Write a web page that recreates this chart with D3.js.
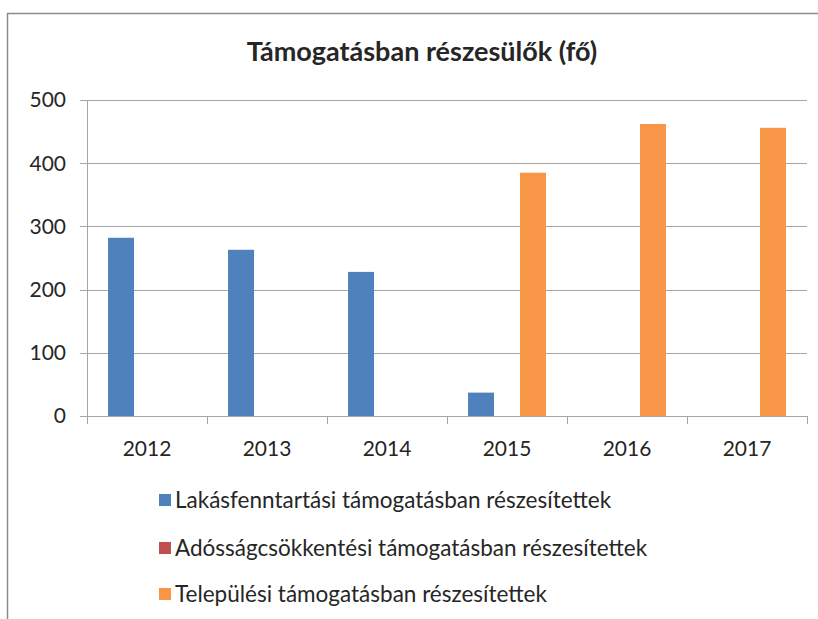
<!DOCTYPE html>
<html lang="hu">
<head>
<meta charset="utf-8">
<script src="https://d3js.org/d3.v7.min.js"></script>
<style>
  body { margin: 0; background: #fff; }
  text { font-family: Lato, "Open Sans", sans-serif; fill: #262626; }
</style>
</head>
<body>
<svg width="818" height="619"></svg>
<script>
// adatok (fő)
var years = ["2012", "2013", "2014", "2015", "2016", "2017"];
var seriesNames = [
  "Lakásfenntartási támogatásban részesítettek",
  "Adósságcsökkentési támogatásban részesítettek",
  "Települési támogatásban részesítettek"
];
var lakasfenntartasi = [282, 263, 228, 37, 0, 0];
var adossagcsokkentesi = [0, 0, 0, 0, 0, 0];
var telepulesi = [0, 0, 0, 385, 462, 456];
var yTicks = [0, 100, 200, 300, 400, 500];
var colors = ["#4f81bd", "#c0504d", "#f79646"];

var allSeries = [lakasfenntartasi, adossagcsokkentesi, telepulesi];

var svg = d3.select("svg");

// chart border
svg.append("path")
    .attr("d", "M7.5,619 V13.5 H818")
    .attr("fill", "none")
    .attr("stroke", "#8c8c8c")
    .attr("stroke-width", 1.5);

svg.append("text")
    .attr("x", 422)
    .attr("y", 61)
    .attr("text-anchor", "middle")
    .style("font-size", "27px")
    .style("font-weight", "bold")
    .text("Támogatásban részesülők (fő)");

var pLeft = 87, pRight = 807, pTop = 100, pBottom = 416;

var x0 = d3.scaleBand().domain(years).range([pLeft, pRight]).padding(0);
var x1 = d3.scaleBand().domain(d3.range(3)).range([0, x0.bandwidth()]).paddingInner(0).paddingOuter(0.81);
var y = d3.scaleLinear().domain([0, 500]).range([pBottom, pTop]);

// gridlines
svg.append("g")
    .selectAll("line")
    .data(yTicks)
    .join("line")
    .attr("x1", pLeft - 7)
    .attr("x2", pRight)
    .attr("y1", d => Math.round(y(d)) + 0.5)
    .attr("y2", d => Math.round(y(d)) + 0.5)
    .attr("stroke", "#a6a6a6")
    .attr("stroke-width", 1);

// y axis line
svg.append("line")
    .attr("x1", pLeft + 0.5).attr("x2", pLeft + 0.5)
    .attr("y1", pTop).attr("y2", pBottom)
    .attr("stroke", "#a6a6a6");

svg.append("g")
    .selectAll("text")
    .data(yTicks)
    .join("text")
    .attr("x", 66)
    .attr("y", d => y(d))
    .attr("dy", "0.35em")
    .attr("text-anchor", "end")
    .style("font-size", "21px")
    .text(d => d);

// bars
years.forEach(function (yr, i) {
  allSeries.forEach(function (s, j) {
    if (!s[i]) return;
    svg.append("rect")
        .attr("x", x0(yr) + x1(j))
        .attr("y", y(s[i]))
        .attr("width", x1.bandwidth())
        .attr("height", y(0) - y(s[i]))
        .attr("fill", colors[j]);
  });
});

// x axis ticks at category boundaries
svg.append("g")
    .selectAll("line")
    .data(years.map(d => x0(d)).concat([pRight]))
    .join("line")
    .attr("x1", d => Math.round(d) + 0.5)
    .attr("x2", d => Math.round(d) + 0.5)
    .attr("y1", pBottom)
    .attr("y2", pBottom + 8)
    .attr("stroke", "#a6a6a6");

svg.append("g")
    .selectAll("text")
    .data(years)
    .join("text")
    .attr("x", d => x0(d) + x0.bandwidth() / 2)
    .attr("y", 456)
    .attr("text-anchor", "middle")
    .style("font-size", "21px")
    .text(d => d);

// legend
var legendY = [500, 548, 594];
var legend = svg.append("g")
    .selectAll("g")
    .data(seriesNames)
    .join("g")
    .attr("transform", (d, i) => "translate(159," + legendY[i] + ")");

legend.append("rect")
    .attr("x", 0).attr("y", -6)
    .attr("width", 12).attr("height", 12)
    .attr("fill", (d, i) => colors[i]);

legend.append("text")
    .attr("x", 16)
    .attr("dy", "0.35em")
    .style("font-size", "22.5px")
    .text(d => d);
</script>
</body>
</html>
